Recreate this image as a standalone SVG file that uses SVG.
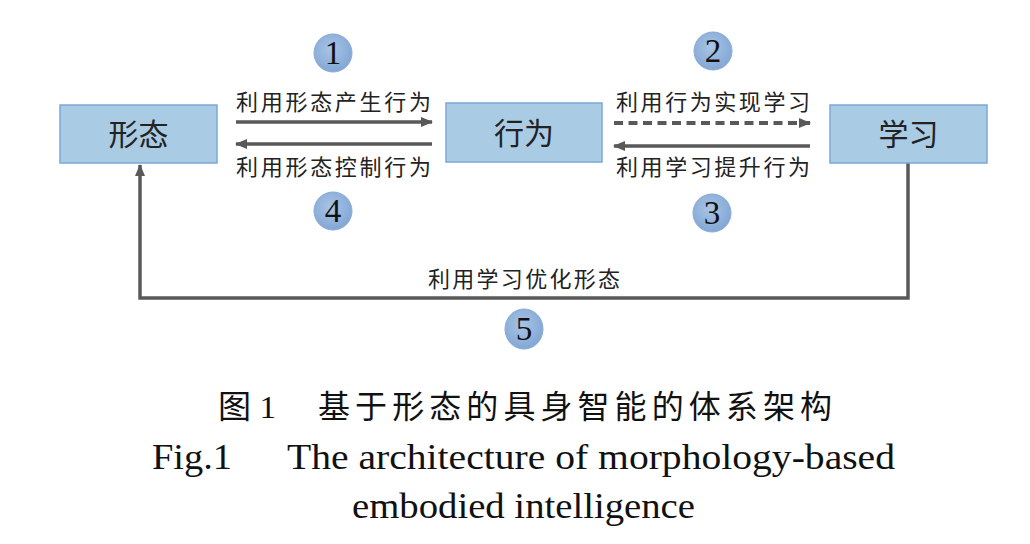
<svg xmlns="http://www.w3.org/2000/svg" width="1030" height="544" viewBox="0 0 1030 544">
<defs>
<marker id="ah" viewBox="0 0 12 10" refX="11" refY="5" markerWidth="12" markerHeight="10" markerUnits="userSpaceOnUse" orient="auto">
<path d="M0,0 L12,5 L0,10 Z" fill="#595959"/>
</marker>
<radialGradient id="cg" cx="0.45" cy="0.4" r="0.65">
<stop offset="0" stop-color="#a9c4e6"/>
<stop offset="1" stop-color="#7fa5d3"/>
</radialGradient>
<style>
.box{fill:#a9cbe4;stroke:#7ba9d6;stroke-width:1.5}
.bt{font-family:"Noto Sans CJK SC",sans-serif;font-size:30px;fill:#222;text-anchor:middle}
.lbl{font-family:"Noto Sans CJK SC",sans-serif;font-size:22px;fill:#222}
.ln{fill:none;stroke:#595959;stroke-width:3.5}
.dash{fill:none;stroke:#595959;stroke-width:4}
.cir{fill:url(#cg);stroke:#8aaad4;stroke-width:1}
.num{font-family:"Liberation Serif",serif;font-size:33px;fill:#111;text-anchor:middle}
.cap{font-family:"Liberation Serif","Noto Sans CJK SC",serif;fill:#111}
</style>
</defs>
<g id="connectors">
<line class="ln" x1="236" y1="122" x2="432" y2="122" marker-end="url(#ah)"/>
<line class="ln" x1="432" y1="144" x2="236" y2="144" marker-end="url(#ah)"/>
<line class="dash" x1="614" y1="123" x2="810" y2="123" stroke-dasharray="9,5.5" marker-end="url(#ah)"/>
<line class="ln" x1="810" y1="146" x2="614" y2="146" marker-end="url(#ah)"/>
<path class="ln" d="M908,163 V298 H140 V165" marker-end="url(#ah)"/>
<text class="lbl" x="236" y="110" textLength="195" lengthAdjust="spacing">利用形态产生行为</text>
<text class="lbl" x="236" y="175" textLength="195" lengthAdjust="spacing">利用形态控制行为</text>
<text class="lbl" x="616" y="110" textLength="194" lengthAdjust="spacing">利用行为实现学习</text>
<text class="lbl" x="616" y="175" textLength="194" lengthAdjust="spacing">利用学习提升行为</text>
<text class="lbl" x="428" y="287" textLength="192" lengthAdjust="spacing">利用学习优化形态</text>
</g>
<g id="node-morph">
<rect class="box" x="60" y="105" width="157" height="58"/>
<text class="bt" x="138.5" y="145">形态</text>
</g>
<g id="node-behavior">
<rect class="box" x="446" y="103" width="156" height="59"/>
<text class="bt" x="524" y="144">行为</text>
</g>
<g id="node-learn">
<rect class="box" x="830" y="105" width="157" height="58"/>
<text class="bt" x="908.5" y="145">学习</text>
</g>
<g id="badge-1">
<circle class="cir" cx="333" cy="53" r="19"/>
<text class="num" x="333" y="64">1</text>
</g>
<g id="badge-2">
<circle class="cir" cx="713" cy="51" r="19"/>
<text class="num" x="713" y="62">2</text>
</g>
<g id="badge-3">
<circle class="cir" cx="712" cy="213" r="19"/>
<text class="num" x="712" y="224">3</text>
</g>
<g id="badge-4">
<circle class="cir" cx="333" cy="211" r="19"/>
<text class="num" x="333" y="222">4</text>
</g>
<g id="badge-5">
<ellipse class="cir" cx="524" cy="329" rx="19" ry="20"/>
<text class="num" x="524" y="340">5</text>
</g>
<g id="caption">
<text class="cap" x="218" y="418" font-size="32" textLength="58" lengthAdjust="spacingAndGlyphs">图 1</text>
<text class="cap" x="318" y="418" font-size="32" textLength="514" lengthAdjust="spacing">基于形态的具身智能的体系架构</text>
<text class="cap" x="152" y="469" font-size="35" textLength="80" lengthAdjust="spacingAndGlyphs">Fig.1</text>
<text class="cap" x="287" y="469" font-size="35" textLength="608" lengthAdjust="spacingAndGlyphs">The architecture of morphology-based</text>
<text class="cap" x="352" y="518" font-size="35" textLength="343" lengthAdjust="spacingAndGlyphs">embodied intelligence</text>
</g>
</svg>
